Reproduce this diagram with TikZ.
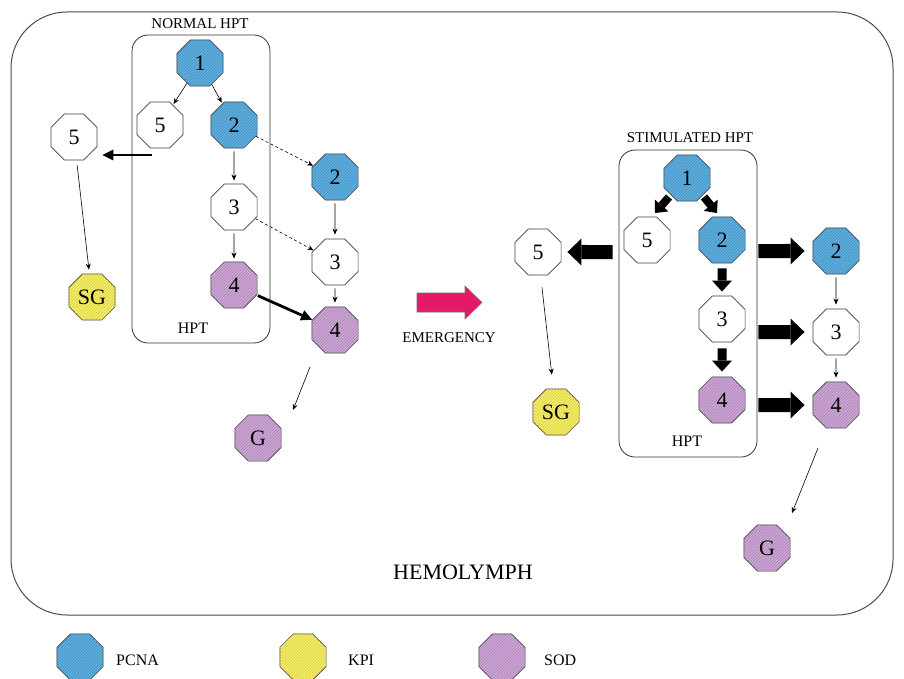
\documentclass[tikz,border=0pt]{standalone}
\usepackage{fontspec}
\setmainfont{Liberation Serif}
\usetikzlibrary{shapes.geometric,arrows.meta,patterns}
\definecolor{pcnac}{RGB}{92,176,226}
\definecolor{kpic}{RGB}{246,238,96}
\definecolor{sodc}{RGB}{206,166,216}
\definecolor{emergc}{RGB}{230,24,104}
\begin{document}
\begin{tikzpicture}[x=1pt,y=-1pt,
  oct/.style={regular polygon,regular polygon sides=8,minimum size=50pt,inner sep=0pt,
    draw=black!75,line width=0.7pt,font=\fontsize{22}{22}\selectfont},
  wh/.style={oct,fill=white},
  bl/.style={oct,fill=pcnac,postaction={pattern=north east lines,pattern color=pcnac!82!black}},
  yl/.style={oct,fill=kpic,postaction={pattern=north east lines,pattern color=kpic!88!black}},
  pu/.style={oct,fill=sodc,postaction={pattern=north east lines,pattern color=sodc!82!black}},
  thin/.style={-{Stealth[length=6pt,width=5pt]},line width=0.6pt},
  dsh/.style={thin,dash pattern=on 3pt off 2.5pt},
  med/.style={-{Triangle[length=11pt,width=11pt,line width=0pt]},line width=2.8pt},
  blk/.style={-{Triangle[length=14pt,width=27pt,line width=0pt]},line width=14pt},
  vblk/.style={-{Triangle[length=11pt,width=20pt,line width=0pt]},line width=9pt},
  dblk/.style={-{Triangle[length=10pt,width=18pt,line width=0pt]},line width=8pt},
  hptbox/.style={draw=black!80,line width=0.8pt,rounded corners=16pt,inner sep=0pt},
  lab/.style={inner sep=0pt,font=\fontsize{15}{15}\selectfont},
  lab16/.style={inner sep=0pt,font=\fontsize{16}{16}\selectfont}]
\useasboundingbox (0,0) rectangle (904,679);
\fill[white] (0,0) rectangle (904,679);
% outer hemolymph box
\draw[line width=1pt,black!70,rounded corners=56pt] (11,12) rectangle (893,615);

% ---------- NORMAL HPT ----------
\node[hptbox,minimum width=138pt,minimum height=308pt] (nbox) at (201,189) {};
\node[lab] (nlab) at (200,24) {NORMAL HPT};
\node[lab16] (nhpt) at (193,328) {HPT};
\node[bl] (n1) at (200,63) {1};
\node[wh] (n5) at (160,125) {5};
\node[bl] (n2) at (234,125) {2};
\node[wh] (n3) at (234,207) {3};
\node[pu] (n4) at (234,285) {4};
\node[wh] (o5) at (74,137) {5};
\node[yl] (sg1) at (92,297) {SG};
\node[bl] (r2) at (335,177) {2};
\node[wh] (r3) at (335,262) {3};
\node[pu] (r4) at (335,330) {4};
\node[pu] (g1) at (258,438) {G};

\draw[thin,shorten >=1pt] (n1) -- (n5);
\draw[thin,shorten >=1pt] (n1) -- (n2);
\draw[thin,shorten <=3pt,shorten >=3pt] (n2) -- (n3);
\draw[thin,shorten <=3pt,shorten >=3pt] (n3) -- (n4);
\draw[dsh] (n2) -- (r2);
\draw[dsh] (n3) -- (r3);
\draw[med,shorten <=1pt] (n4) -- (r4);
\coordinate (c5) at (152,155);
\draw[med,shorten >=5pt] (c5) -- (o5.east |- c5);
\draw[thin,shorten <=5pt,shorten >=4pt] (o5) -- (sg1);
\draw[thin,shorten <=3pt,shorten >=4pt] (r2) -- (r3);
\draw[thin,shorten <=3pt,shorten >=4pt] (r3) -- (r4);
\draw[thin] ([shift={(-25,37)}]r4.center) -- ([shift={(35,-28)}]g1.center);

% ---------- EMERGENCY ----------
\filldraw[fill=emergc,draw=black!55,line width=0.6pt]
  (417,293) -- (465,293) -- (465,286) -- (482,302.5) -- (465,319) -- (465,312) -- (417,312) -- cycle;
\node[lab] (emlab) at (449,338) {EMERGENCY};

% ---------- STIMULATED HPT ----------
\node[hptbox,minimum width=138pt,minimum height=307pt] (sbox) at (688,303.5) {};
\node[lab] (slab) at (690,138) {STIMULATED HPT};
\node[lab16] (shpt) at (687,441) {HPT};
\node[bl] (s1) at (687,178) {1};
\node[wh] (s5) at (647,240) {5};
\node[bl] (s2) at (722,240) {2};
\node[wh] (s3) at (722,319) {3};
\node[pu] (s4) at (722,400) {4};
\node[wh] (so5) at (538,252) {5};
\node[yl] (sg2) at (556,412) {SG};
\node[bl] (sr2) at (836,251) {2};
\node[wh] (sr3) at (836,332) {3};
\node[pu] (sr4) at (836,405) {4};
\node[pu] (g2) at (767,548) {G};

\draw[dblk] ([shift={(-18,19)}]s1.center) -- ([shift={(8,-27)}]s5.center);
\draw[dblk] ([shift={(17,19)}]s1.center) -- ([shift={(-5,-27)}]s2.center);
\draw[vblk,shorten <=5pt,shorten >=4pt] (s2) -- (s3);
\draw[vblk,shorten <=6pt,shorten >=5pt] (s3) -- (s4);
\draw[blk,shorten <=6pt,shorten >=6pt] (sbox.west |- so5) -- (so5.east);
\draw[blk,shorten <=1pt,shorten >=8pt] (sbox.east |- sr2) -- (sr2.west);
\draw[blk,shorten <=1pt,shorten >=8pt] (sbox.east |- sr3) -- (sr3.west);
\draw[blk,shorten <=1pt,shorten >=8pt] (sbox.east |- sr4) -- (sr4.west);
\draw[thin,shorten <=12pt,shorten >=14pt] (so5) -- (sg2);
\draw[thin,shorten <=3pt,shorten >=4pt] (sr2) -- (sr3);
\draw[thin,shorten <=3pt,shorten >=4pt] (sr3) -- (sr4);
\draw[thin] ([shift={(-18,43)}]sr4.center) -- ([shift={(25,-35)}]g2.center);

\node[inner sep=0pt,font=\fontsize{22}{22}\selectfont] (hemo) at (463,572) {HEMOLYMPH};

% ---------- legend ----------
\node[bl] (lg1) at (80,657) {};
\node[lab16,anchor=west] (lt1) at (116,660) {PCNA};
\node[yl] (lg2) at (303,657) {};
\node[lab16,anchor=west] (lt2) at (348,660) {KPI};
\node[pu] (lg3) at (502,657) {};
\node[lab16,anchor=west] (lt3) at (544,660) {SOD};
\end{tikzpicture}
\end{document}
